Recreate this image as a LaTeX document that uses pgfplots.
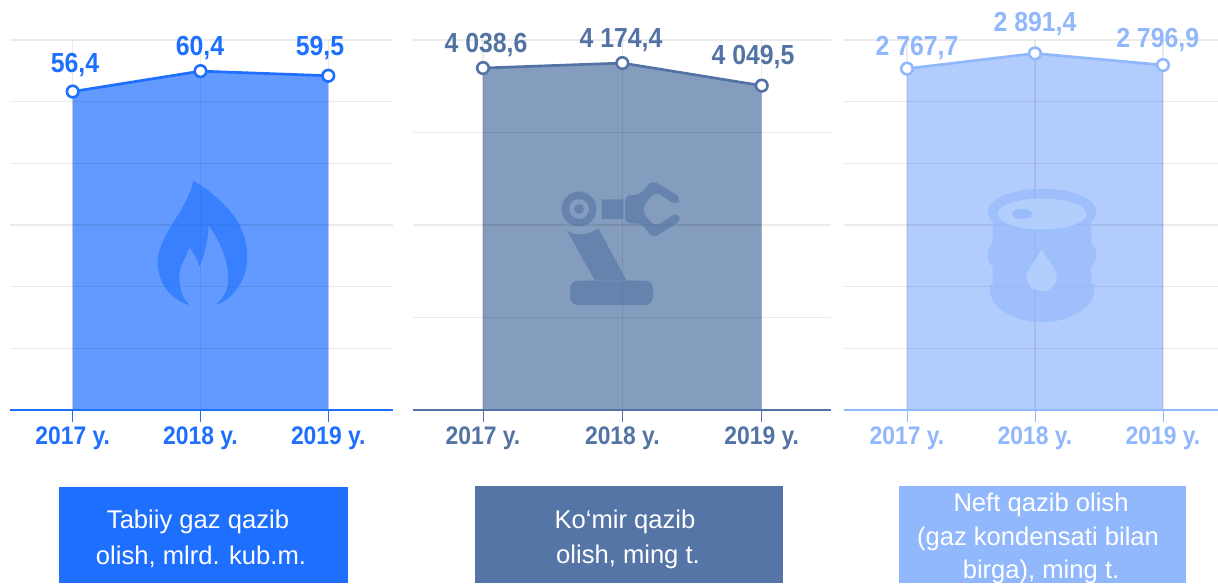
\documentclass[border=0pt]{standalone}
\usepackage{pgfplots}
\pgfplotsset{compat=1.18}
\usepackage{fontspec}
\setmainfont{Liberation Sans}
\newfontfamily\labf[FakeStretch=0.90]{Liberation Sans Bold}
\newfontfamily\tickf[FakeStretch=0.90]{Liberation Sans Bold}
\definecolor{cA}{HTML}{1F6FFF}
\definecolor{cB}{HTML}{5273A3}
\definecolor{cC}{HTML}{91B7FC}
\definecolor{aA}{HTML}{659DFA}
\definecolor{aB}{HTML}{849DC1}
\definecolor{aC}{HTML}{B2CEFD}
\definecolor{boxB}{HTML}{5575A6}
\pgfplotsset{
  panel/.style={
    scale only axis, clip=false, axis on top,
    axis x line=bottom, axis y line=left,
    y axis line style={draw=none},
    x axis line style={draw=#1, line width=.55pt, -},
    xtick={0,1,2},
    xticklabels={2017 y.,2018 y.,2019 y.},
    xticklabel style={text=#1, font=\tickf\fontsize{12.7}{15}\selectfont, yshift=1.3pt},
    yticklabels={},
    major tick length=6pt,
    xtick style={draw=#1, line width=.45pt},
    ytick style={draw=none},
    tick align=outside,
    xmajorgrids, ymajorgrids,
    grid style={draw=black, opacity=.08, line width=.7pt},
  },
  ln/.style={draw=#1, line width=1.35pt, mark=*, mark size=2.9pt,
    mark options={fill=white, draw=#1, line width=1.3pt}},
}
\begin{document}
\begin{tikzpicture}
\path[use as bounding box] (0,0) rectangle (609pt,-291.5pt);
\begin{scope}[x=.5pt,y=-.5pt]
  \coordinate (a1) at (10,410);
  \coordinate (a2) at (413,410);
  \coordinate (a3) at (844,410);
\end{scope}

% Panel 1
\begin{axis}[panel=cA, at={(a1)}, anchor=south west, width=191.35pt, height=185pt,
  xmin=-0.4906, xmax=2.504, ymin=-6, ymax=66.5,
  ytick={-6,6.083,18.167,30.25,42.333,54.417,66.5}]
\addplot[fill=cA, fill opacity=.7, draw=none] coordinates {(0,-6) (0,56.4) (1,60.4) (2,59.5) (2,-6)} -- cycle;
\addplot[ln=cA] coordinates {(0,56.4) (1,60.4) (2,59.5)};
\end{axis}

% Panel 2: heights as drawn in the picture; the printed labels are set below
\begin{axis}[panel=cB, at={(a2)}, anchor=south west, width=209pt, height=185pt,
  xmin=-0.502, xmax=2.497, ymin=0, ymax=4452,
  ytick={0,1113,2226,3339,4452}]
\addplot[fill=cB, fill opacity=.71, draw=none] coordinates {(0,0) (0,4114.6) (1,4174.4) (2,3903) (2,0)} -- cycle;
\addplot[ln=cB] coordinates {(0,4114.6) (1,4174.4) (2,3903)};
\end{axis}

% Panel 3
\begin{axis}[panel=cC, at={(a3)}, anchor=south west, width=187pt, height=185pt,
  xmin=-0.492, xmax=2.43, ymin=0, ymax=3000,
  ytick={0,500,1000,1500,2000,2500,3000}]
\addplot[fill=cC, fill opacity=.7, draw=none] coordinates {(0,0) (0,2767.7) (1,2891.4) (2,2796.9) (2,0)} -- cycle;
\addplot[ln=cC] coordinates {(0,2767.7) (1,2891.4) (2,2796.9)};
\end{axis}

\begin{scope}[x=.5pt,y=-.5pt]
  % flame
  \begin{scope}[transparency group, opacity=.6]
  \fill[cA] (193.3,180.7) .. controls (205,187) and (226,203) .. (236.7,220)
     .. controls (244,233) and (247.5,245) .. (247.3,258)
     .. controls (247,280) and (232,301) .. (215,305)
     .. controls (224,298) and (228.5,290) .. (228.3,278)
     .. controls (228,258) and (218,238) .. (208.3,225)
     .. controls (209,240) and (204,255) .. (199.3,266.7)
     .. controls (197,258) and (193,252) .. (189.3,247.7)
     .. controls (186,258) and (179,266) .. (179.3,277)
     .. controls (179.5,290) and (183,300) .. (190,305)
     .. controls (172,301) and (158,284) .. (157.7,263)
     .. controls (157.5,245) and (170,228) .. (180,211.7)
     .. controls (186,201) and (191,192) .. (193.3,180.7) -- cycle;
  \end{scope}
  % robot
  \begin{scope}[transparency group, opacity=.6]
  \fill[cB, even odd rule] (579,209) circle (17.5) (579,209) circle (10);
  \fill[cB] (579,209) circle (5);
  \fill[cB] (566.7,230) .. controls (572,236) and (588,236) .. (598.3,228.3)
     -- (626.7,280.7) -- (595,280.7) -- cycle;
  \fill[cB, rounded corners=4] (570,280.7) rectangle (653,305);
  \fill[cB] (601.7,199.3) rectangle (623.3,219);
  \fill[cB, rounded corners=3] (625,195) -- (640,195) -- (651.7,180) -- (680.5,197)
     -- (677,205.5) -- (655,191.7) -- (643.3,206.7) -- (643.3,213.3) -- (655,226.7)
     -- (677,212.5) -- (681.5,220.5) -- (652.7,238.3) -- (641.7,223.3) -- (625,223.3) -- cycle;
  \end{scope}
  % barrel
  \begin{scope}[transparency group, opacity=.6]
  \fill[cC] (1042,211.7) ellipse [x radius=54.5, y radius=23];
  \fill[cC] (992.7,216.7) rectangle (1091,290);
  \fill[cC] (992.7,243) .. controls (986,248) and (986,262) .. (992.7,267) -- (1091,267)
     .. controls (1098,262) and (1098,248) .. (1091,243) -- cycle;
  \fill[cC] (990,284) -- (1094,284) .. controls (1099,306) and (1070,322.3) .. (1042,322.3)
     .. controls (1014,322.3) and (985,306) .. (990,284) -- cycle;
  \end{scope}
  \fill[aC] (1042,214) ellipse [x radius=44.5, y radius=15.5];
  \fill[cC!75!aC] (1022,214) ellipse [x radius=10, y radius=5];
  \fill[aC] (1041.7,250) .. controls (1048,260) and (1057,269) .. (1056.7,277)
     .. controls (1056.5,285) and (1050,291) .. (1041.7,291)
     .. controls (1033,291) and (1026.5,285) .. (1026.7,277)
     .. controls (1027,269) and (1036,260) .. (1041.7,250) -- cycle;

  % value labels
  \begin{scope}[every node/.style={font=\labf\fontsize{13.8}{16}\selectfont, inner sep=0pt}]
  \node[text=cA] at (75,65) {56,4};
  \node[text=cA] at (200,48) {60,4};
  \node[text=cA] at (320,48) {59,5};
  \node[text=cB] at (486,45.5) {4 038,6};
  \node[text=cB] at (621,40.5) {4 174,4};
  \node[text=cB] at (753,57.5) {4 049,5};
  \node[text=cC] at (917,48) {2 767,7};
  \node[text=cC] at (1035,24.5) {2 891,4};
  \node[text=cC] at (1157.7,40.5) {2 796,9};
  \end{scope}

  % boxes
  \fill[cA] (59,487) rectangle (348,583);
  \fill[boxB] (475,486) rectangle (783,583);
  \fill[cC] (899,486) rectangle (1186,583);
  \begin{scope}[every node/.style={font=\fontsize{12.8}{15}\selectfont, text=white, inner sep=0pt}]
  \node at (198,522) {Tabiiy gaz qazib};
  \node at (201,557) {olish, mlrd. kub.m.};
  \node at (625,522) {Ko‘mir qazib};
  \node at (628,557) {olish, ming t.};
  \node at (1041,505) {Neft qazib olish};
  \node at (1038,539) {(gaz kondensati bilan};
  \node at (1041,572) {birga), ming t.};
  \end{scope}
\end{scope}
\end{tikzpicture}
\end{document}
